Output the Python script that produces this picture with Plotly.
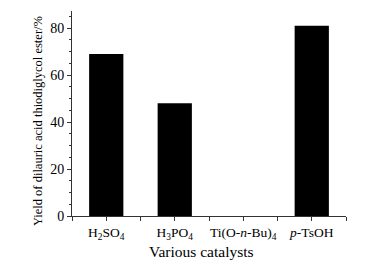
import plotly.graph_objects as go

categories = ["H<sub>2</sub>SO<sub>4</sub>", "H<sub>3</sub>PO<sub>4</sub>",
              "Ti(O-<i>n</i>-Bu)<sub>4</sub>", "<i>p</i>-TsOH"]
yields = [69, 48, 0, 81]
y_ticks = [0, 20, 40, 60, 80]
x_title = "Various catalysts"
y_title = "Yield of dilauric acid thiodiglycol ester/%"

xpos = list(range(len(categories)))

fig = go.Figure(go.Bar(x=xpos, y=yields, width=0.5,
                       marker=dict(color="black", line=dict(width=0))))

font = "Liberation Serif, Times New Roman, serif"
# page body has an 8px margin, so offsets are compensated here
fig.update_layout(
    width=371, height=272,
    margin=dict(l=64, r=33, t=3, b=64, autoexpand=False),
    paper_bgcolor="white", plot_bgcolor="white",
    showlegend=False,
    font=dict(family=font, color="black", size=13),
    annotations=[
        dict(text=y_title, xref="paper", yref="paper", x=0, y=0.463,
             xanchor="center", yanchor="middle", xshift=-34, textangle=-90,
             showarrow=False, font=dict(size=12.5, family=font, color="black")),
        dict(text=x_title, xref="paper", yref="paper", x=0.4726, y=0,
             xanchor="center", yanchor="middle", yshift=-35.5,
             showarrow=False, font=dict(size=15.5, family=font, color="black")),
    ],
)
fig.update_xaxes(
    automargin=False,
    range=[-0.5, 3.5], tickmode="array", tickvals=xpos, ticktext=categories,
    showline=True, linecolor="#333", linewidth=1, showgrid=False, zeroline=False,
    ticks="outside", ticklen=4, tickcolor="#333",
    minor=dict(tickmode="linear", tick0=-0.5, dtick=1, ticks="outside", ticklen=4, tickcolor="#333"),
    tickfont=dict(size=13.5, family=font),
)
fig.update_yaxes(
    automargin=False,
    range=[0, 87.3], tickmode="array", tickvals=y_ticks,
    showline=True, linecolor="#333", linewidth=1, showgrid=False, zeroline=False,
    ticks="outside", ticklen=4, tickcolor="#333",
    minor=dict(tickmode="linear", tick0=0, dtick=5, ticks="outside", ticklen=2, tickcolor="#333"),
    tickfont=dict(size=14, family=font),
)
fig.write_html("out.html")
